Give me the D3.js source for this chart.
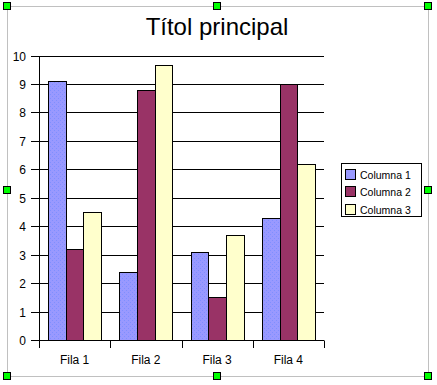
<!DOCTYPE html>
<html><head><meta charset="utf-8">
<script src="https://cdn.jsdelivr.net/npm/d3@7"></script>
<style>body{margin:0;background:#fff}svg{display:block}</style>
</head><body>
<script>
const categories = ["Fila 1","Fila 2","Fila 3","Fila 4"];
const seriesNames = ["Columna 1","Columna 2","Columna 3"];
const columna1 = [9.1, 2.4, 3.1, 4.3];
const columna2 = [3.2, 8.8, 1.5, 9.0];
const columna3 = [4.5, 9.65, 3.7, 6.2];
const yTicks = [0,1,2,3,4,5,6,7,8,9,10];
const title = "Títol principal";

const W = 437, H = 385;
const font = "'Liberation Sans', Arial, sans-serif";
const svg = d3.select("body").append("svg").attr("width", W).attr("height", H);
const defs = svg.append("defs");
const pat = defs.append("pattern").attr("id","dots").attr("patternUnits","userSpaceOnUse")
  .attr("width",4).attr("height",4);
pat.append("rect").attr("width",4).attr("height",4).attr("fill","#9999ff");
pat.append("rect").attr("x",0).attr("y",0).attr("width",1).attr("height",1).attr("fill","#7f8fff");
pat.append("rect").attr("x",2).attr("y",2).attr("width",1).attr("height",1).attr("fill","#7f8fff");

const fills = ["url(#dots)", "#993366", "#ffffcc"];
const legendFills = ["#9999ff", "#993366", "#ffffcc"];

// frame
svg.append("rect").attr("x",7.5).attr("y",6.5).attr("width",421).attr("height",370)
  .attr("fill","none").attr("stroke","#c0c0c0").attr("stroke-width",1);

const plot = {left:39, right:324, top:55.5, bottom:340};
const x = d3.scaleBand().domain(categories).range([plot.left, plot.right]).paddingInner(0).paddingOuter(0);
const inner = d3.scaleBand().domain(seriesNames).range([0, x.bandwidth()]).paddingInner(0).paddingOuter(0.51);
const y = d3.scaleLinear().domain([0,10]).range([plot.bottom, plot.top]);

// gridlines
svg.append("g").selectAll("line").data(yTicks).join("line")
  .attr("x1", plot.left - 8).attr("x2", plot.right)
  .attr("y1", d => Math.round(y(d)) + 0.5).attr("y2", d => Math.round(y(d)) + 0.5)
  .attr("stroke","#000").attr("stroke-width",1);

// y labels
svg.append("g").selectAll("text").data(yTicks).join("text")
  .attr("x", 26).attr("y", d => Math.round(y(d)) + 4.5)
  .attr("text-anchor","end").attr("font-family",font).attr("font-size",12)
  .text(d => d);

// bars
const data = [columna1, columna2, columna3];
const g = svg.append("g");
data.forEach((vals, si) => {
  g.selectAll(null).data(categories).join("rect")
    .attr("x", (c) => Math.round(x(c) + inner(seriesNames[si])) + 0.5)
    .attr("width", (c) => Math.round(x(c) + inner(seriesNames[si]) + inner.bandwidth()) - Math.round(x(c) + inner(seriesNames[si])))
    .attr("y", (c, i) => Math.round(y(vals[i])) + 0.5)
    .attr("height", (c, i) => Math.round(y(0)) - Math.round(y(vals[i])))
    .attr("fill", fills[si]).attr("stroke","#000").attr("stroke-width",1);
});

// y axis line
svg.append("line").attr("x1", plot.left + 0.5).attr("x2", plot.left + 0.5)
  .attr("y1", Math.round(y(10)) + 0.5).attr("y2", 348).attr("stroke","#000");
// x ticks
const xt = categories.map(c => x(c)).concat([plot.right]);
svg.append("g").selectAll("line").data(xt.slice(1)).join("line")
  .attr("x1", d => Math.round(d) + 0.5).attr("x2", d => Math.round(d) + 0.5)
  .attr("y1", Math.round(y(0)) + 0.5).attr("y2", 348).attr("stroke","#000");
// x labels
svg.append("g").selectAll("text").data(categories).join("text")
  .attr("x", c => x(c) + x.bandwidth()/2).attr("y", 364)
  .attr("text-anchor","middle").attr("font-family",font).attr("font-size",12)
  .text(d => d);

// title
svg.append("text").attr("x", 217).attr("y", 35).attr("text-anchor","middle")
  .attr("font-family",font).attr("font-size",24).text(title);

// legend
const lg = svg.append("g");
lg.append("rect").attr("x",341.5).attr("y",163.5).attr("width",80).attr("height",53)
  .attr("fill","#fff").attr("stroke","#000");
seriesNames.forEach((n, i) => {
  const yy = 168.5 + i * 17.5;
  lg.append("rect").attr("x",345.5).attr("y",Math.round(yy)+0.5).attr("width",10).attr("height",10)
    .attr("fill",legendFills[i]).attr("stroke","#000");
  lg.append("text").attr("x",360).attr("y",Math.round(yy)+9.5).attr("font-family",font)
    .attr("font-size",10.5).text(n);
});

// handles
const handles = [[7,6],[217,6],[428,6],[7,190],[428,190],[7,376],[217,376],[428,376]];
svg.append("g").selectAll("rect").data(handles).join("rect")
  .attr("x", d => d[0] - 3.5).attr("y", d => d[1] - 3.5).attr("width",7).attr("height",7)
  .attr("fill","#00ff00").attr("stroke","#000").attr("stroke-width",1);
</script>
</body></html>
